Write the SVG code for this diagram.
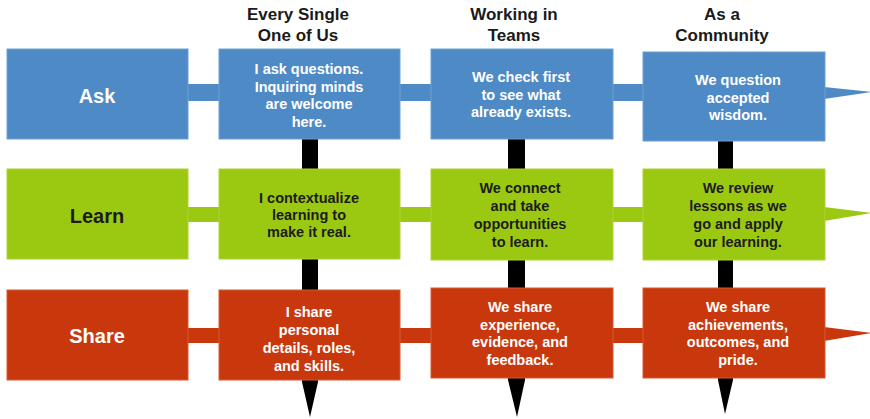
<svg xmlns="http://www.w3.org/2000/svg" width="870" height="419" viewBox="0 0 870 419">
<style>
.ask{fill:#4e8ac6;stroke:#6c9fd2;stroke-width:1}
.learn{fill:#9bc912;stroke:#acd23a;stroke-width:1}
.share{fill:#c9380c;stroke:#d35a34;stroke-width:1}
.bar-ask{fill:#4e8ac6}
.bar-learn{fill:#9bc912}
.bar-share{fill:#c9380c}
.post{fill:#000}
text{font-family:"Liberation Sans",Arial,sans-serif;font-weight:bold;text-anchor:middle}
.hdr{font-size:17px;fill:#1a1a1a}
.lbl{font-size:20px}
.txt{font-size:14.5px}
.w{fill:#fff}
.d{fill:#1c1c1c}
</style>
<g id="headers">
<text class="hdr" x="298" y="20">Every Single</text>
<text class="hdr" x="298" y="41">One of Us</text>
<text class="hdr" x="514" y="20">Working in</text>
<text class="hdr" x="514" y="41">Teams</text>
<text class="hdr" x="722" y="20">As a</text>
<text class="hdr" x="722" y="41">Community</text>
</g>
<g id="connectors">
<path class="post" d="M302,139 L318,139 L318,382 L310,417 L302,382 Z"/>
<path class="post" d="M508,139 L525,139 L525,380 L517,417 L508,380 Z"/>
<path class="post" d="M718,141 L733,141 L733,380 L725,414 L718,380 Z"/>
<rect class="bar-ask" x="187" y="84" width="33" height="17"/>
<rect class="bar-ask" x="399" y="84" width="33" height="17"/>
<rect class="bar-ask" x="612" y="84" width="32" height="17"/>
<polygon class="bar-ask" points="824,87 872,92 824,99"/>
<rect class="bar-learn" x="187" y="207" width="33" height="15"/>
<rect class="bar-learn" x="399" y="207" width="33" height="15"/>
<rect class="bar-learn" x="612" y="207" width="32" height="15"/>
<polygon class="bar-learn" points="824,207 872,213 824,221"/>
<rect class="bar-share" x="187" y="328" width="33" height="15"/>
<rect class="bar-share" x="399" y="328" width="33" height="15"/>
<rect class="bar-share" x="612" y="328" width="32" height="15"/>
<polygon class="bar-share" points="824,327 872,333 824,341"/>
</g>
<g id="ask-label">
<rect class="ask" x="7" y="49" width="181" height="90"/>
<text class="lbl w" x="97" y="103">Ask</text>
</g>
<g id="ask-single">
<rect class="ask" x="219" y="49" width="181" height="90"/>
<text class="txt w" x="309" y="74">I ask questions.</text>
<text class="txt w" x="309" y="91.5">Inquiring minds</text>
<text class="txt w" x="309" y="109">are welcome</text>
<text class="txt w" x="309" y="126.5">here.</text>
</g>
<g id="ask-teams">
<rect class="ask" x="431" y="49" width="182" height="90"/>
<text class="txt w" x="521" y="82">We check first</text>
<text class="txt w" x="521" y="99.5">to see what</text>
<text class="txt w" x="521" y="117">already exists.</text>
</g>
<g id="ask-community">
<rect class="ask" x="643" y="52" width="182" height="89"/>
<text class="txt w" x="738" y="85">We question</text>
<text class="txt w" x="738" y="102.5">accepted</text>
<text class="txt w" x="738" y="120">wisdom.</text>
</g>
<g id="learn-label">
<rect class="learn" x="7" y="169" width="181" height="90"/>
<text class="lbl d" x="97" y="223">Learn</text>
</g>
<g id="learn-single">
<rect class="learn" x="219" y="169" width="181" height="90"/>
<text class="txt d" x="309" y="203">I contextualize</text>
<text class="txt d" x="309" y="220">learning to</text>
<text class="txt d" x="309" y="237">make it real.</text>
</g>
<g id="learn-teams">
<rect class="learn" x="431" y="169" width="182" height="91"/>
<text class="txt d" x="520" y="193">We connect</text>
<text class="txt d" x="520" y="211">and take</text>
<text class="txt d" x="520" y="229">opportunities</text>
<text class="txt d" x="520" y="246.5">to learn.</text>
</g>
<g id="learn-community">
<rect class="learn" x="643" y="169" width="182" height="91"/>
<text class="txt d" x="738" y="193">We review</text>
<text class="txt d" x="738" y="211">lessons as we</text>
<text class="txt d" x="738" y="229">go and apply</text>
<text class="txt d" x="738" y="246.5">our learning.</text>
</g>
<g id="share-label">
<rect class="share" x="7" y="290" width="181" height="90"/>
<text class="lbl w" x="97" y="343">Share</text>
</g>
<g id="share-single">
<rect class="share" x="219" y="290" width="181" height="90"/>
<text class="txt w" x="309" y="317">I share</text>
<text class="txt w" x="309" y="335">personal</text>
<text class="txt w" x="309" y="353">details, roles,</text>
<text class="txt w" x="309" y="371">and skills.</text>
</g>
<g id="share-teams">
<rect class="share" x="431" y="288" width="182" height="90"/>
<text class="txt w" x="520" y="312">We share</text>
<text class="txt w" x="520" y="329.5">experience,</text>
<text class="txt w" x="520" y="347">evidence, and</text>
<text class="txt w" x="520" y="364.5">feedback.</text>
</g>
<g id="share-community">
<rect class="share" x="643" y="288" width="182" height="90"/>
<text class="txt w" x="738" y="312">We share</text>
<text class="txt w" x="738" y="329.5">achievements,</text>
<text class="txt w" x="738" y="347">outcomes, and</text>
<text class="txt w" x="738" y="364.5">pride.</text>
</g>
</svg>
